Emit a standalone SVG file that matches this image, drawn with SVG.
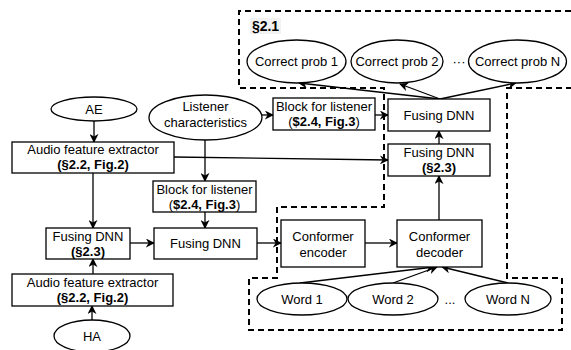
<svg xmlns="http://www.w3.org/2000/svg" width="571" height="350" viewBox="0 0 571 350">
<defs>
<marker id="arr" viewBox="0 0 10 10" refX="9" refY="5" markerWidth="9" markerHeight="9" markerUnits="userSpaceOnUse" orient="auto">
<path d="M0,0 L10,5 L0,10 L3,5 z" fill="#000"/>
</marker>
<style>
text{font-family:"Liberation Sans",Arial,sans-serif;font-size:13px;fill:#000;text-anchor:middle}
.b{font-weight:bold}
.n{fill:#fff;stroke:#000;stroke-width:1.3}
.c{fill:none;stroke:#000;stroke-width:1.3;marker-end:url(#arr)}
.d{fill:none;stroke:#000;stroke-width:2;stroke-dasharray:6 4}
</style>
</defs>
<rect width="571" height="350" fill="#fff"/>
<path class="d" d="M571,11 H239 V88 H384 V207 H277 V278 H249 V330 H562 V278 H507 V88 H571"/>
<rect x="250" y="18" width="31" height="16" fill="#f2f2f2"/>
<text class="b" x="265.5" y="31" style="font-size:14px">§2.1</text>
<g id="connectors">
<line class="c" x1="94" y1="121" x2="94" y2="142"/>
<line class="c" x1="262" y1="115" x2="273" y2="115"/>
<line class="c" x1="375" y1="115" x2="388" y2="115"/>
<line class="c" x1="205" y1="140" x2="205" y2="181"/>
<line class="c" x1="174" y1="157" x2="388" y2="160"/>
<line class="c" x1="93" y1="173" x2="93" y2="228"/>
<line class="c" x1="205" y1="212" x2="205" y2="228"/>
<line class="c" x1="130" y1="243" x2="154" y2="243"/>
<line class="c" x1="93" y1="274" x2="93" y2="259"/>
<line class="c" x1="92" y1="320" x2="92" y2="306"/>
<line class="c" x1="257" y1="243" x2="281" y2="243"/>
<line class="c" x1="365" y1="243" x2="397" y2="243"/>
<line class="c" x1="439" y1="220" x2="439" y2="176"/>
<line class="c" x1="439" y1="144" x2="439" y2="131"/>
<line class="c" x1="440" y1="99" x2="299" y2="83"/>
<line class="c" x1="440" y1="99" x2="400" y2="84"/>
<line class="c" x1="440" y1="99" x2="516" y2="83"/>
<line class="c" x1="300" y1="283" x2="434" y2="267"/>
<line class="c" x1="393" y1="283" x2="437" y2="267"/>
<line class="c" x1="508" y1="283" x2="442" y2="267"/>
</g>
<g id="ae"><ellipse class="n" cx="94" cy="109" rx="43" ry="12"/><text x="94" y="113.5">AE</text></g>
<g id="listener"><ellipse class="n" cx="205.5" cy="117.5" rx="56.5" ry="22.5"/><text x="205.5" y="111">Listener</text><text x="205.5" y="127">characteristics</text></g>
<g id="afe1"><rect class="n" x="12" y="142" width="162" height="31"/><text x="93" y="154">Audio feature extractor</text><text class="b" x="93" y="169">(§2.2, Fig.2)</text></g>
<g id="bfl2"><rect class="n" x="153" y="181" width="103" height="31"/><text x="204.5" y="194">Block for listener</text><text x="204.5" y="209">(<tspan class="b">$2.4, Fig.3</tspan>)</text></g>
<g id="fuse-left"><rect class="n" x="46" y="228" width="84" height="31"/><text x="88" y="240.5">Fusing DNN</text><text class="b" x="88" y="255.5">(§2.3)</text></g>
<g id="fuse-mid"><rect class="n" x="154" y="228" width="103" height="31"/><text x="205.5" y="248">Fusing DNN</text></g>
<g id="afe2"><rect class="n" x="12" y="274" width="161" height="32"/><text x="92.5" y="286.5">Audio feature extractor</text><text class="b" x="92.5" y="302">(§2.2, Fig.2)</text></g>
<g id="ha"><ellipse class="n" cx="92" cy="336" rx="38" ry="16"/><text x="92" y="340.5">HA</text></g>
<g id="enc"><rect class="n" x="281" y="220" width="84" height="47"/><text x="323" y="240.5">Conformer</text><text x="323" y="256.5">encoder</text></g>
<g id="dec"><rect class="n" x="397" y="220" width="85" height="47"/><text x="439.5" y="240.5">Conformer</text><text x="439.5" y="256.5">decoder</text></g>
<g id="bfl1"><rect class="n" x="273" y="98" width="102" height="32"/><text x="324" y="111">Block for listener</text><text x="324" y="126">(<tspan class="b">$2.4, Fig.3</tspan>)</text></g>
<g id="fuse-top"><rect class="n" x="388" y="99" width="102" height="32"/><text x="439" y="119.5">Fusing DNN</text></g>
<g id="fuse-right"><rect class="n" x="388" y="144" width="102" height="32"/><text x="439" y="156.5">Fusing DNN</text><text class="b" x="439" y="171.5">(§2.3)</text></g>
<g id="cp1"><ellipse class="n" cx="296.5" cy="61.5" rx="49.5" ry="21.5"/><text x="296.5" y="66">Correct prob 1</text></g>
<g id="cp2"><ellipse class="n" cx="397" cy="61.5" rx="46" ry="21.5"/><text x="397" y="66">Correct prob 2</text></g>
<text x="459" y="66">···</text>
<g id="cpn"><ellipse class="n" cx="517.5" cy="61.5" rx="49" ry="21.5"/><text x="517.5" y="66">Correct prob N</text></g>
<g id="w1"><ellipse class="n" cx="302" cy="299" rx="45" ry="16"/><text x="302" y="303.5">Word 1</text></g>
<g id="w2"><ellipse class="n" cx="393" cy="299" rx="45" ry="16"/><text x="393" y="303.5">Word 2</text></g>
<text x="450" y="304">...</text>
<g id="wn"><ellipse class="n" cx="508" cy="299" rx="43" ry="16"/><text x="508" y="303.5">Word N</text></g>
</svg>
